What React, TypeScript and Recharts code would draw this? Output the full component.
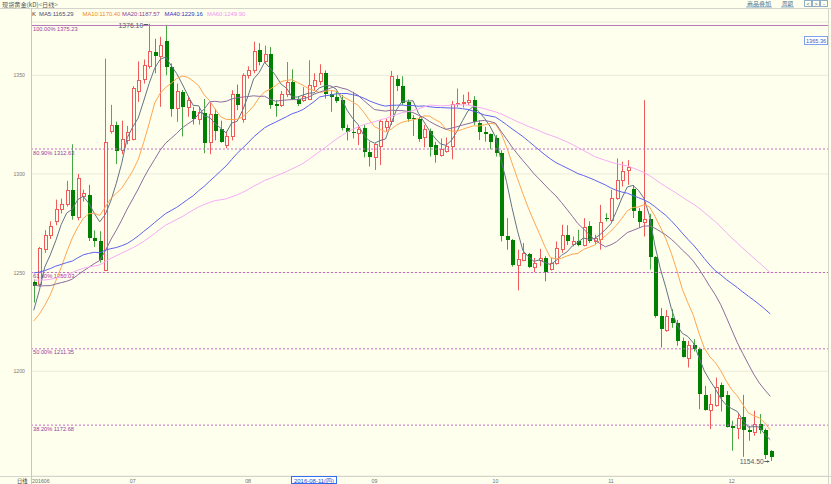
import React from 'react';
import { ComposedChart, Bar, Line, XAxis, YAxis, CartesianGrid, ReferenceLine, ReferenceDot } from 'recharts';

// ---------- data ----------
const opens = [
  1245.1, 1244, 1262, 1269, 1276, 1282, 1284.7, 1292, 1278, 1289,
  1289.4, 1267.5, 1266, 1251.5, 1322, 1324.8, 1312, 1317.2, 1317.7, 1342,
  1348, 1354.7, 1362, 1360, 1367.4, 1354.2, 1333.2, 1341.6, 1333.7, 1332,
  1328, 1331, 1316.3, 1330.3, 1322.7, 1314.6, 1319.4, 1340.7, 1328, 1350,
  1352.9, 1362.6, 1357.3, 1361, 1335.2, 1334.9, 1340.4, 1346.6, 1338.2, 1337.4,
  1338.2, 1344.4, 1347.1, 1350.9, 1340.4, 1339, 1337.4, 1323.4, 1321.4, 1320.5,
  1323.4, 1311, 1308.4, 1314.3, 1324, 1326.8, 1348.3, 1344.6, 1336.5, 1328.1,
  1327.6, 1318.9, 1321.7, 1314.6, 1309.6, 1311.8, 1314.3, 1335.2, 1335.7, 1336.5,
  1337.4, 1326, 1321.4, 1320, 1318.4, 1310.4, 1268.4, 1266.3, 1254, 1256.6,
  1259.4, 1252.9, 1256.2, 1257.4, 1251.8, 1254.9, 1261.9, 1268.8, 1264.6, 1265.8,
  1264.1, 1273.4, 1265.8, 1267, 1277.6, 1276.8, 1287.7, 1297, 1302, 1292.4,
  1281, 1275.4, 1277.1, 1257.9, 1227.9, 1220.9, 1227.2, 1224.2, 1215.4, 1206.6,
  1213.2, 1211.5, 1188, 1180.3, 1183, 1193.1, 1188, 1172.3, 1171.2, 1176.9,
  1170.1, 1169, 1173.2, 1170.1, 1159.5,
];
const highs = [
  1246.5, 1263, 1271.5, 1276, 1287, 1287.5, 1296.5, 1315, 1300, 1292,
  1294.5, 1271.4, 1271, 1358.4, 1335, 1326.5, 1327, 1324.3, 1344.5, 1357,
  1358, 1376.1, 1368.5, 1369.5, 1375.3, 1356, 1345.8, 1342.5, 1339, 1334,
  1334, 1338, 1336, 1333, 1327, 1321.5, 1342.4, 1345.3, 1351, 1354.5,
  1367, 1366.3, 1365, 1364.3, 1337.4, 1342, 1356.7, 1353, 1339.5, 1344,
  1357.6, 1351, 1355.6, 1352.5, 1342.4, 1341.6, 1340, 1325, 1341.6, 1324.8,
  1324.8, 1316.3, 1315.5, 1327.3, 1328, 1352.2, 1350, 1349.5, 1337.7, 1329.8,
  1329, 1324.8, 1323, 1316.3, 1318, 1318.5, 1337, 1343.3, 1340.2, 1341.6,
  1339.4, 1327.3, 1323.9, 1320.5, 1319.7, 1312, 1277.6, 1267, 1261.6, 1265,
  1260, 1257.4, 1262, 1258.3, 1257.4, 1265.8, 1274.2, 1274, 1268.3, 1271.7,
  1277.6, 1276, 1269.2, 1284.3, 1280.1, 1291.9, 1307.9, 1306.2, 1307, 1294.4,
  1282.7, 1337.4, 1279.8, 1258.3, 1232, 1231, 1231.5, 1226, 1217, 1215.4,
  1216.2, 1212, 1192.6, 1188.4, 1196.8, 1194.3, 1190, 1174.9, 1178.3, 1188,
  1172.3, 1180, 1178.3, 1171, 1160,
];
const lows = [
  1234.8, 1243, 1260, 1267, 1274, 1280, 1283.5, 1276.8, 1276.5, 1286,
  1266, 1263, 1255, 1250.7, 1320.5, 1305, 1310, 1315, 1317, 1336.5,
  1345.8, 1353.4, 1351, 1334, 1350, 1329, 1326.4, 1319, 1329, 1325,
  1325, 1310.5, 1310, 1317, 1315.8, 1313, 1317, 1332.3, 1326, 1348.3,
  1351, 1355, 1356, 1333, 1329, 1334, 1339, 1337.4, 1334.4, 1336.5,
  1337.4, 1342.4, 1345, 1338.2, 1331.5, 1336, 1322, 1317, 1318, 1314.6,
  1308.4, 1303.7, 1302, 1304.5, 1321.4, 1324.8, 1342, 1334.9, 1326.4, 1319.2,
  1316.3, 1313.5, 1308.8, 1305.7, 1308.8, 1310.8, 1307.4, 1334, 1333.7, 1334.9,
  1324.8, 1317.2, 1316.3, 1312.5, 1308.8, 1265.8, 1261.6, 1253, 1241, 1255.7,
  1252.3, 1250.2, 1253.2, 1245.6, 1251, 1254, 1260, 1264, 1263.3, 1263.3,
  1263.3, 1265, 1264.1, 1261.6, 1275.9, 1275.9, 1286.9, 1293.6, 1294.5, 1277.6,
  1272.6, 1268.3, 1251.5, 1227.1, 1212, 1220, 1222, 1212.9, 1207, 1201.9,
  1210, 1180.8, 1180, 1170.7, 1182, 1179.6, 1171.5, 1159.7, 1165.6, 1156.6,
  1164.8, 1167.3, 1168.3, 1155.5, 1154.5,
];
const closes = [
  1243.4, 1262.5, 1269, 1273.7, 1282, 1284.7, 1291.6, 1278.5, 1298, 1290.5,
  1267.5, 1265.9, 1256.6, 1316.3, 1324.6, 1311.8, 1317.5, 1321.4, 1343.3, 1347.5,
  1355, 1362.1, 1360, 1365.5, 1354.2, 1332.7, 1342, 1333.7, 1337.4, 1328,
  1331.5, 1315.8, 1330.6, 1321.9, 1316.3, 1319.4, 1340.7, 1334.9, 1350, 1352.9,
  1362.3, 1356.7, 1361, 1335, 1334.4, 1340.4, 1346.6, 1338.2, 1335.4, 1339.4,
  1345, 1347.5, 1350.9, 1340.7, 1339, 1337, 1323.4, 1321.4, 1320.5, 1322.7,
  1311, 1308.8, 1315, 1327, 1326.8, 1349.5, 1344.5, 1336, 1327.8, 1327.6,
  1317.7, 1322.6, 1313.5, 1309.6, 1312.5, 1314.3, 1335.2, 1336.2, 1336.5, 1337.4,
  1326.1, 1321.4, 1320, 1316, 1310.4, 1268.4, 1266.3, 1254, 1256.9, 1259.9,
  1252.9, 1254.9, 1257.4, 1250.3, 1254.9, 1262.4, 1268.8, 1265.8, 1265.8, 1264.1,
  1273, 1265.8, 1267.5, 1275.6, 1277.1, 1287.7, 1297, 1301.5, 1303.7, 1281,
  1275.4, 1277.1, 1257.9, 1227.9, 1221.2, 1227.9, 1224.2, 1215.4, 1207.3, 1213.2,
  1211.5, 1188.4, 1180.3, 1183.3, 1192.1, 1186.7, 1171.8, 1171.2, 1176.2, 1170.1,
  1169, 1173.2, 1170.1, 1157.6, 1156.5,
];
// closes before the first visible candle (estimated from where the MA lines start)
const priorCloses = [
  1262, 1265, 1255, 1244, 1248, 1220, 1220, 1222, 1237, 1228,
  1234, 1222, 1218, 1229, 1226, 1239, 1244, 1258, 1261, 1246,
  1245, 1238, 1234, 1232, 1250, 1254, 1249, 1232, 1230, 1238,
  1243, 1266, 1266, 1292, 1290, 1280, 1276, 1272, 1266, 1263,
  1276, 1265, 1273, 1266, 1270, 1278, 1257, 1255, 1252, 1230,
  1228, 1224, 1221, 1212, 1215,
  1213, 1209, 1243, 1246,
];
const TOTAL_SLOTS = 145;

const monthTickIdx = [0, 18, 39, 62, 84, 105, 127];
const monthTickLabels = ['201606', '07', '08', '09', '10', '11', '12'];
const yTicks = [1200, 1250, 1300, 1350];
const fibLevels = [1375.23, 1312.63, 1250.03, 1211.35, 1172.68];
const fibPercents = ['100.00%', '80.90%', '61.80%', '50.00%', '38.20%'];
const maPeriods = [5, 10, 20, 40, 60];
const maHeaderValues = ['1165.29', '1170.40', '1187.57', '1229.16', '1249.90'];

// ---------- styles ----------
const BG = '#FFFFEE';
const FONT = "'Liberation Sans', Arial, 'Noto Sans CJK SC', sans-serif";
const FONT_CJK = "'Noto Sans CJK SC', 'Liberation Sans', sans-serif";
const maLineColors = ['#627386', '#FFA54F', '#8C6C9E', '#5E62EE', '#F6AAF6'];
const maTextColors = ['#3C4C78', '#EF8A2A', '#8E3C8E', '#3434C8', '#EE96EE'];
const UP = '#F05A5A';
const DOWN = '#008000';
const DOWN_WICK = '#45A845';

// ---------- build chart rows ----------
const allCloses = [...priorCloses, ...closes];
const P = priorCloses.length;
function ma(n: number, i: number) {
  let s = 0;
  for (let k = P + i - n + 1; k <= P + i; k++) s += allCloses[k];
  return s / n;
}
const data = Array.from({ length: TOTAL_SLOTS }, (_, idx) => {
  if (idx >= closes.length) return { idx };
  const row: any = { idx, open: opens[idx], high: highs[idx], low: lows[idx], close: closes[idx] };
  maPeriods.forEach((n) => { row['ma' + n] = ma(n, idx); });
  return row;
});
const highVal = Math.max(...highs);
const highIdx = highs.indexOf(highVal);
const lowVal = Math.min(...lows);
const lowIdx = lows.indexOf(lowVal);

function Candle(props: any) {
  const { x, y, width, height, payload } = props;
  if (!payload || payload.high == null) return null;
  const { open, close, high, low } = payload;
  const top0 = Math.min(y, y + height);
  const h = Math.abs(height);
  const range = high - low;
  const py = (p: number) => (range > 0 ? top0 + ((high - p) / range) * h : top0);
  const cx = Math.round(x + width / 2);
  const wx = cx + 0.5;
  const yH = top0;
  const yL = top0 + h;
  const bTop = py(Math.max(open, close));
  const bBot = py(Math.min(open, close));
  if (close >= open) {
    const t = Math.round(bTop) + 0.5;
    const b = Math.max(Math.round(bBot) + 0.5, t + 1);
    return (
      <g>
        <line x1={wx} x2={wx} y1={yH} y2={t} stroke={UP} strokeWidth={1} />
        <line x1={wx} x2={wx} y1={b} y2={yL} stroke={UP} strokeWidth={1} />
        <rect x={cx - 0.5} y={t} width={3} height={b - t} fill={BG} stroke={UP} strokeWidth={1} />
      </g>
    );
  }
  const t = Math.round(bTop);
  const b = Math.max(Math.round(bBot), t + 1);
  return (
    <g>
      <line x1={wx} x2={wx} y1={yH} y2={yL} stroke={DOWN_WICK} strokeWidth={1} />
      <rect x={cx - 1} y={t} width={4} height={b - t} fill={DOWN} />
    </g>
  );
}

function FibLabel(text: string) {
  return (props: any) => {
    const vb = props.viewBox || {};
    return (
      <text x={(vb.x ?? 31) + 2} y={(vb.y ?? 0) + 5.5} fontSize={5.7} fill="#9A3A9A" fontFamily={FONT}>
        {text}
      </text>
    );
  };
}

function YTick(props: any) {
  return (
    <text x={25} y={props.y + 2} textAnchor="end" fontSize={5.2} fill="#7A7A7A" fontFamily={FONT}>
      {props.payload.value}
    </text>
  );
}

function XTick(props: any) {
  const k = monthTickIdx.indexOf(props.payload.value);
  if (k < 0) return null;
  const first = k === 0;
  return (
    <text x={first ? props.x - 1.7 : props.x} y={482.5} textAnchor={first ? 'start' : 'middle'}
      fontSize={5.3} fill="#707070" fontFamily={FONT}>
      {monthTickLabels[k]}
    </text>
  );
}

export default function App() {
  return (
    <div style={{ position: 'fixed', left: 0, top: 0, width: 831, height: 484, background: BG, overflow: 'hidden' }}>
      <ComposedChart width={831} height={484} data={data} margin={{ top: 22, right: 3, left: 0, bottom: 0 }}>
        <CartesianGrid vertical={false} stroke="#EAEADA" />
        <XAxis dataKey="idx" type="category" height={8} ticks={monthTickIdx} interval={0}
          axisLine={false} tickLine={false} tickSize={0} tick={<XTick />} />
        <YAxis type="number" width={31} domain={[1146.9, 1377]} allowDataOverflow ticks={yTicks}
          axisLine={false} tickLine={false} tick={<YTick />} />
        {fibLevels.map((lv, k) => (
          <ReferenceLine key={'f' + k} y={lv} stroke={k === 0 ? '#B57AB5' : '#C46AC4'}
            strokeDasharray={k === 0 ? undefined : '2 2'} strokeWidth={1}
            label={FibLabel(`${fibPercents[k]} ${lv.toFixed(2)}`)} />
        ))}
        <Bar dataKey={(d: any) => (d.high == null ? undefined : [d.low, d.high])} barSize={4}
          shape={(p: any) => <Candle {...p} />} isAnimationActive={false} />
        {maPeriods.map((n, k) => (
          <Line key={'ma' + n} dataKey={'ma' + n} type="linear" stroke={maLineColors[k]} strokeWidth={1}
            dot={false} activeDot={false} isAnimationActive={false} />
        ))}
        <ReferenceDot x={highIdx} y={highVal} r={1} ifOverflow="visible"
          shape={(p: any) => (
            <g>
              <line x1={p.cx - 5.5} x2={p.cx - 1} y1={Math.round(p.cy) + 0.5} y2={Math.round(p.cy) + 0.5} stroke="#506070" />
              <text x={p.cx - 6} y={p.cy + 4} textAnchor="end" fontSize={6.8} fill="#506070" fontFamily={FONT}>
                {highVal.toFixed(2)}
              </text>
            </g>
          )} />
        <ReferenceDot x={lowIdx} y={lowVal} r={1} ifOverflow="visible"
          shape={(p: any) => (
            <g>
              <line x1={p.cx - 6} x2={p.cx - 1} y1={Math.round(p.cy) + 0.5} y2={Math.round(p.cy) + 0.5} stroke="#506070" />
              <path d={`M${p.cx - 1} ${Math.round(p.cy) + 0.5} l-2 -1.5 v3 z`} fill="#506070" />
              <text x={p.cx - 6.5} y={p.cy + 2.5} textAnchor="end" fontSize={6.8} fill="#506070" fontFamily={FONT}>
                {lowVal.toFixed(2)}
              </text>
            </g>
          )} />
      </ComposedChart>
      <svg width={831} height={484} style={{ position: 'absolute', left: 0, top: 0, pointerEvents: 'none' }}>
        {/* frame */}
        <line x1={0} x2={831} y1={8.5} y2={8.5} stroke="#D4D4CC" />
        <line x1={0} x2={831} y1={476.5} y2={476.5} stroke="#D4D4CC" />
        <line x1={31.5} x2={31.5} y1={8.5} y2={484} stroke="#C8C8C0" />
        <line x1={828.5} x2={828.5} y1={8.5} y2={484} stroke="#D4D4CC" />
        {/* title */}
        <text x={2} y={6.5} fontSize={6.2} fill="#555" fontFamily={FONT_CJK}>
          现货黄金(kD)&lt;日线&gt;
        </text>
        {/* top-right buttons */}
        <text x={747} y={6} fontSize={6} fill="#3E6E8E" fontFamily={FONT_CJK}>商品叠加</text>
        <line x1={746} x2={772} y1={7} y2={7} stroke="#8FB0C8" />
        <text x={782} y={6} fontSize={5.5} fill="#3E6E8E" fontFamily={FONT_CJK}>周期</text>
        <line x1={781} x2={794} y1={7} y2={7} stroke="#8FB0C8" />
        <rect x={804.5} y={0.5} width={7} height={6} fill="none" stroke="#8FB0C8" />
        <rect x={812.5} y={0.5} width={7} height={6} fill="none" stroke="#8FB0C8" />
        <rect x={820.5} y={0.5} width={7} height={6} fill="none" stroke="#8FB0C8" />
        <text x={808} y={5.5} fontSize={5.5} fill="#3E6E8E" textAnchor="middle" fontFamily={FONT}>&lt;</text>
        <text x={816} y={5.5} fontSize={5.5} fill="#3E6E8E" textAnchor="middle" fontFamily={FONT}>&gt;</text>
        <text x={824} y={5.5} fontSize={5.5} fill="#3E6E8E" textAnchor="middle" fontFamily={FONT}>-</text>
        {/* MA header */}
        <text x={32} y={16} fontSize={6} fill="#333" fontFamily={FONT}>K</text>
        {maPeriods.map((n, k) => {
          const xs = [39, 82.5, 122, 164.5, 207];
          return (
            <text key={'h' + n} x={xs[k]} y={16} fontSize={5.9} fill={maTextColors[k]} fontFamily={FONT}>
              {`MA${n}:${maHeaderValues[k]}`}
            </text>
          );
        })}
        {/* cursor price box */}
        <rect x={804.5} y={36.5} width={23} height={8} fill="#FFFFFF" stroke="#80A0F0" />
        <text x={806} y={42.8} fontSize={5.6} fill="#4060C0" fontFamily={FONT}>1365.36</text>
        {/* bottom-left label */}
        <text x={17} y={482.5} fontSize={5.2} fill="#333" fontFamily={FONT_CJK}>日线</text>
        {/* cursor date box */}
        <rect x={291.5} y={476.5} width={45} height={7} fill="#FFFFFF" stroke="#3070F0" />
        <text x={314} y={482.5} fontSize={6} fill="#2050D0" textAnchor="middle" fontFamily={FONT}>2016-08-11(四)</text>
      </svg>
    </div>
  );
}
